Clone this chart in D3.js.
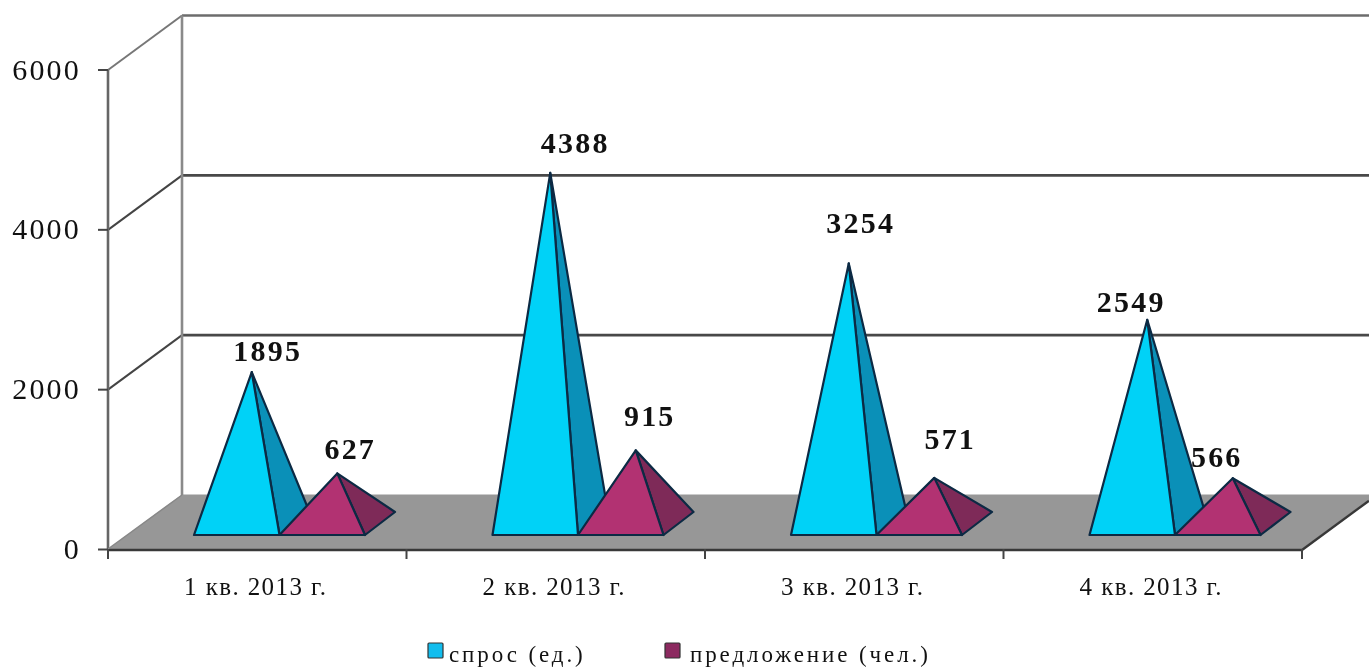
<!DOCTYPE html>
<html><head><meta charset="utf-8">
<script src="https://cdn.jsdelivr.net/npm/d3@7"></script>
<style>html,body{margin:0;padding:0;background:#fff;overflow:hidden}svg{display:block;filter:blur(0.45px)}text{font-family:"Liberation Serif",serif;fill:#111}</style>
</head><body><svg id="c" width="1369" height="669"></svg>
<script>
const categories=["1 кв. 2013 г.","2 кв. 2013 г.","3 кв. 2013 г.","4 кв. 2013 г."];
const demand=[1895,4388,3254,2549];
const supply=[627,915,571,566];
const yTicks=[0,2000,4000,6000];
const seriesNames=["спрос (ед.)","предложение (чел.)"];

const svg=d3.select("#c");
const x=d3.scaleBand().domain(categories).range([108,1302]);
const y=d3.scaleLinear().domain([0,6000]).range([549.5,70]);
const depth={dx:74,dy:-54.5};

// floor
svg.append("polygon").attr("fill","#979797")
  .attr("points",[[108,549],[1302,549],[1302+depth.dx,549+depth.dy],[108+depth.dx,549+depth.dy]].join(" "));
// back wall grid and side wall lines
svg.selectAll(".g").data(yTicks.filter(d=>d>0)).join("path")
  .attr("fill","none").attr("stroke",d=>d==6000?"#6c6c6c":"#484848").attr("stroke-width",d=>d==6000?2.6:2.6)
  .attr("d",d=>`M${108+depth.dx},${y(d)+depth.dy}L1369,${y(d)+depth.dy}`);
svg.selectAll(".s").data(yTicks.filter(d=>d>0)).join("line")
  .attr("stroke",d=>d==6000?"#777":"#444").attr("stroke-width",2)
  .attr("x1",108).attr("y1",d=>y(d)).attr("x2",108+depth.dx).attr("y2",d=>y(d)+depth.dy);
svg.append("line").attr("x1",182).attr("x2",182).attr("y1",y(6000)+depth.dy).attr("y2",y(0)+depth.dy).attr("stroke","#8a8a8a").attr("stroke-width",2.6);
svg.append("line").attr("x1",108).attr("x2",108).attr("y1",y(6000)).attr("y2",y(0)).attr("stroke","#666").attr("stroke-width",2.6);
// floor edges
svg.append("path").attr("fill","none").attr("stroke","#383838").attr("stroke-width",2.4)
  .attr("d",`M108,550L1302,550L1369,${550-67*54.5/74}`);
svg.append("line").attr("x1",108).attr("y1",549).attr("x2",182).attr("y2",495).attr("stroke","#888").attr("stroke-width",1.5);
// y ticks and labels
svg.selectAll(".yt").data(yTicks).join("line").attr("x1",98).attr("x2",108).attr("y1",d=>y(d)).attr("y2",d=>y(d)).attr("stroke","#444").attr("stroke-width",2);
svg.selectAll(".yl").data(yTicks).join("text").attr("x",81).attr("y",d=>y(d)+9.5).attr("text-anchor","end")
  .attr("font-size",30).attr("letter-spacing",2.2).text(d=>d);
// x ticks and labels
svg.selectAll(".xt").data(d3.range(5)).join("line")
  .attr("x1",i=>108+i*x.step()).attr("x2",i=>108+i*x.step()).attr("y1",549).attr("y2",559).attr("stroke","#444").attr("stroke-width",2);
svg.selectAll(".xl").data(categories).join("text")
  .attr("x",d=>x(d)+x.bandwidth()/2-1.5).attr("y",595).attr("text-anchor","middle")
  .attr("font-size",25).attr("letter-spacing",1.4).text(d=>d);

// pyramids
const baseW=85.5, offX=[86,171.5], frontY=535, bx=30, by=-23;
const vh=v=>y(0)-y(v);
function pyramid(cat,v,off,front,side){
  const xl=x(cat)+off, xr=xl+baseW, ax=(xl+xr)/2+bx/2, ay=frontY+by/2-vh(v);
  const g=svg.append("g").attr("stroke","#0c2a44").attr("stroke-width",2.2).attr("stroke-linejoin","round");
  g.append("polygon").attr("fill",side).attr("points",[[xr,frontY],[xr+bx,frontY+by],[ax,ay]].join(" "));
  g.append("polygon").attr("fill",front).attr("points",[[xl,frontY],[xr,frontY],[ax,ay]].join(" "));
  return {ax,ay};
}
const lOffs={d:[[16,-11],[25,-20],[12,-30],[-16,-8]],s:[[13,-14],[14,-24],[16,-29],[-16,-11]]};
const sup=[],dem=[];
categories.forEach((c,i)=>{ dem.push(pyramid(c,demand[i],offX[0],"#00d2f7","#0a90b8")); });
categories.forEach((c,i)=>{ sup.push(pyramid(c,supply[i],offX[1],"#b23272","#7e2a58")); });
const lab=(p,v,o)=>svg.append("text").attr("x",p.ax+o[0]).attr("y",p.ay+o[1]).attr("text-anchor","middle")
  .attr("font-size",30).attr("font-weight","bold").attr("letter-spacing",2.2).text(v);
demand.forEach((v,i)=>lab(dem[i],v,lOffs.d[i]));
supply.forEach((v,i)=>lab(sup[i],v,lOffs.s[i]));

// legend
const lx=[{s:428,t:449,f:"#12bdee"},{s:665,t:690,f:"#8c2a60"}];
seriesNames.forEach((n,i)=>{
  svg.append("rect").attr("x",lx[i].s).attr("y",643).attr("width",15).attr("height",15).attr("rx",1).attr("fill",lx[i].f).attr("stroke","#333").attr("stroke-width",1.2);
  svg.append("text").attr("x",lx[i].t).attr("y",662).attr("font-size",23).attr("letter-spacing",2.9).text(n);
});
</script></body></html>
